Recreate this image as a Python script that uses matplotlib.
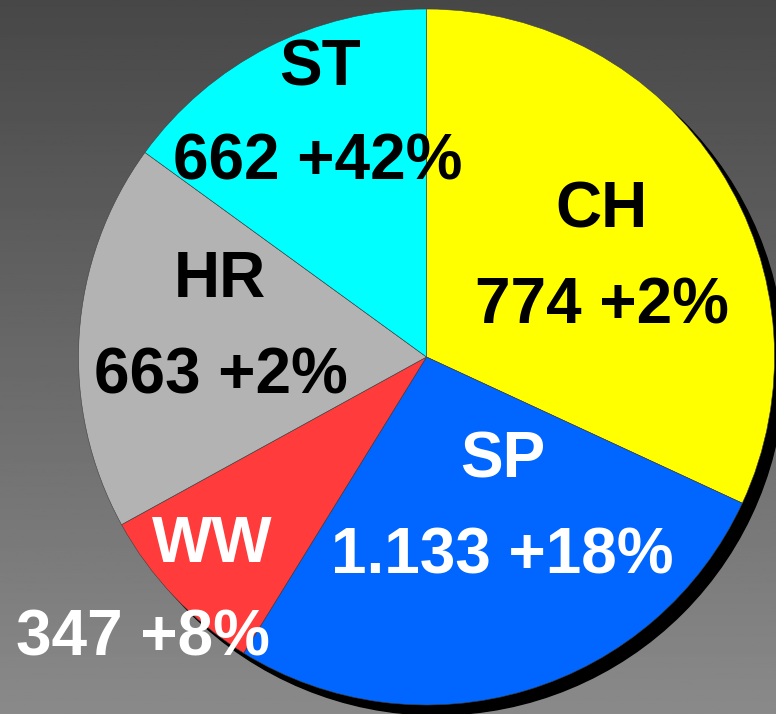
import matplotlib
matplotlib.use("Agg")
import matplotlib.pyplot as plt
import numpy as np
from matplotlib.patches import Circle

# slice data (clockwise from 12 o'clock)
regions = ["CH", "SP", "WW", "HR", "ST"]
share = [31.9, 26.9, 8.2, 18.0, 15.0]
counts = ["774", "1.133", "347", "663", "662"]
growth = ["+2%", "+18%", "+8%", "+2%", "+42%"]
colors = ["#FFFF00", "#0066FF", "#FF3B3B", "#B3B3B3", "#00FFFF"]
text_colors = ["black", "white", "white", "black", "black"]

W, H = 776, 714
fig = plt.figure(figsize=(W / 100, H / 100), dpi=100)
ax = fig.add_axes([0, 0, 1, 1])
ax.set_xlim(0, W)
ax.set_ylim(0, H)
ax.set_aspect("equal")
ax.axis("off")

# grey vertical gradient background
grad = np.linspace(0.54, 0.28, 256).reshape(-1, 1)
ax.imshow(grad, cmap="gray", vmin=0, vmax=1, extent=[0, W, 0, H],
          aspect="auto", origin="lower", zorder=0)

cx, cy, r = 426.5, H - 357, 348

# drop shadow
ax.add_patch(Circle((cx + 10, cy - 10), r, color="black", zorder=1))

wedges, _ = ax.pie(share, colors=colors, startangle=90, counterclock=False,
                   center=(cx, cy), radius=r, frame=True,
                   wedgeprops=dict(edgecolor="#404040", linewidth=0.4))
for w in wedges:
    w.set_zorder(2)
ax.set_xlim(0, W)
ax.set_ylim(0, H)
ax.axis("off")

# label positions (pixel coords, baseline) for name line and value line
name_pos = [(602, 227), (503, 478), (212, 562), (220, 297), (320, 85)]
val_pos = [(602, 323), (502, 573), (143, 655), (221, 393), (318, 180)]

font = dict(family="Liberation Sans", fontweight="bold", fontsize=46,
            ha="center", va="baseline", zorder=5)
for i in range(len(regions)):
    x, y = name_pos[i]
    ax.text(x, H - y, regions[i], color=text_colors[i], **font)
    x, y = val_pos[i]
    ax.text(x, H - y, counts[i] + " " + growth[i], color=text_colors[i], **font)

fig.savefig("out.png", dpi=100)
